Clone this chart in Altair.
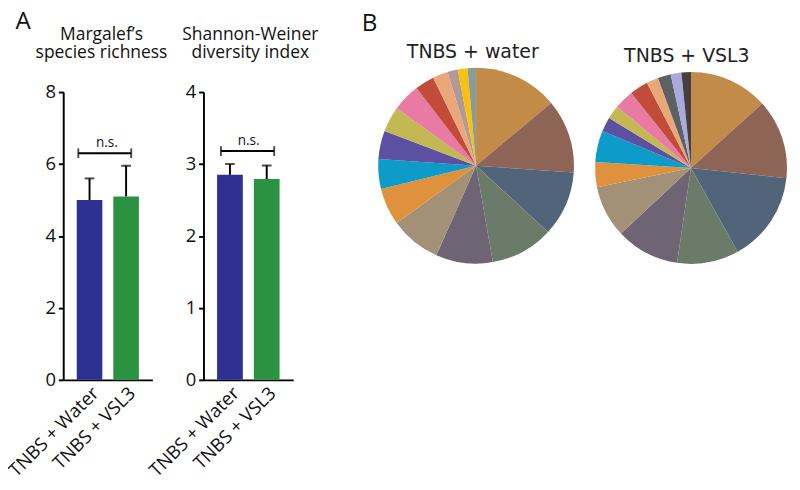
import altair as alt
import pandas as pd

# ---------------- data ----------------
groups = ["TNBS + Water", "TNBS + VSL3"]
bar_colors = ["#2E3192", "#2A9342"]

margalef_mean = [5.0, 5.1]
margalef_upper = [5.6, 5.95]
margalef_ticks = [0, 2, 4, 6, 8]

shannon_mean = [2.85, 2.79]
shannon_upper = [3.0, 2.98]
shannon_ticks = [0, 1, 2, 3, 4]

taxa = [f"Taxon {i}" for i in range(1, 17)]
pie1_values = [13.9, 12.2, 10.7, 10.4, 9.4, 8.4, 6.1, 4.9, 4.7, 4.2, 4.6, 3.2, 2.5, 1.7, 1.6, 1.4]
pie2_values = [13.3, 13.4, 15.2, 10.4, 10.7, 8.75, 4.2, 5.3, 2.4, 2.3, 3.3, 3.1, 2.0, 2.2, 1.8, 1.6]
common_colors = ["#C28B48", "#8E6457", "#526479", "#6A7B69", "#6F6474", "#A29176",
                 "#E0913B", "#0D9BC9", "#5B50A1", "#C3B852", "#E97AA4", "#C24B39", "#EAA87A"]
pie1_colors = common_colors + ["#B29A94", "#FAC10B", "#8C9C9A"]
pie2_colors = common_colors + ["#5C6264", "#A9A9DE", "#45403E"]

FONT = "Open Sans"


def bar_panel(title_lines, mean, upper, ymax, ticks, bracket_y, b1, b2, tdx, width, title_dx):
    df = pd.DataFrame({"group": groups, "mean": mean, "upper": upper, "color": bar_colors})
    br = pd.DataFrame({"g1": [groups[0]], "g2": [groups[1]], "y": [bracket_y]})
    xs = alt.X("group:N",
               scale=alt.Scale(domain=groups, paddingInner=0.3, paddingOuter=0.37),
               axis=alt.Axis(title=None, labelAngle=-45, ticks=False, labelFontSize=19,
                             labelFont=FONT, labelColor="#111", domainColor="black",
                             domainWidth=2, labelPadding=4))
    ys = alt.Y("mean:Q", scale=alt.Scale(domain=[0, ymax], nice=False),
               axis=alt.Axis(title=None, values=ticks, format="d", grid=False,
                             labelFontSize=19, labelFont=FONT, labelColor="#111",
                             domainColor="black", domainWidth=2, tickColor="black",
                             tickWidth=2, tickSize=5, labelPadding=3))
    base = alt.Chart(df)
    bars = base.mark_bar().encode(x=xs, y=ys, color=alt.Color("color:N", scale=None))
    err = base.mark_rule(color="black", strokeWidth=2).encode(
        x="group:N", y="mean:Q", y2="upper:Q")
    cap = base.mark_tick(color="black", thickness=2, size=10).encode(
        x="group:N", y="upper:Q")
    bb = alt.Chart(br)
    line = bb.mark_rule(color="black", strokeWidth=2).encode(
        x=alt.X("g1:N", bandPosition=b1), x2=alt.X2("g2", bandPosition=b2), y="y:Q")
    end1 = bb.mark_tick(color="black", thickness=2, size=10, orient="vertical").encode(
        x=alt.X("g1:N", bandPosition=b1), y="y:Q")
    end2 = bb.mark_tick(color="black", thickness=2, size=10, orient="vertical").encode(
        x=alt.X("g2:N", bandPosition=b2), y="y:Q")
    txt = bb.mark_text(text="n.s.", fontSize=14, font=FONT, baseline="bottom", dy=-3,
                       dx=tdx, color="#111").encode(x=alt.X("g1:N", bandPosition=1), y="y:Q")
    return alt.layer(bars, err, cap, line, end1, end2, txt).properties(
        width=width, height=297,
        title=alt.Title(title_lines, fontSize=18, font=FONT, fontWeight="normal",
                        color="#111", anchor="middle", frame="group", dx=title_dx,
                        lineHeight=19, offset=22))


def pie_panel(title, values, colors, radius, width, height, offset, dx):
    df = pd.DataFrame({"taxon": taxa, "value": values, "color": colors,
                       "i": list(range(len(values)))})
    return alt.Chart(df).mark_arc(radius=radius).encode(
        theta=alt.Theta("value:Q", stack=True),
        color=alt.Color("color:N", scale=None),
        order=alt.Order("i:Q"),
    ).properties(width=width, height=height,
                 title=alt.Title(title, fontSize=19.5, font="DejaVu Sans", fontWeight="normal",
                                 color="#222", anchor="middle", frame="group", dx=dx,
                                 offset=offset))


bar1 = bar_panel(["Margalef’s", "species richness"], margalef_mean, margalef_upper, 8,
                 margalef_ticks, 6.3, 0.06, 0.7, 4.7, 92, -6.5)
bar2 = bar_panel(["Shannon-Weiner", "diversity index"], shannon_mean, shannon_upper, 4,
                 shannon_ticks, 3.18, 0.15, 0.79, 6, 92.6, 2)

pie1 = pie_panel("TNBS + water", pie1_values, pie1_colors, 101, 202, 152, 6, -3.4)
pie2 = pie_panel("TNBS + VSL3", pie2_values, pie2_colors, 99, 198, 156.6, 6, -4.3)

groupA = alt.hconcat(bar1, bar2, spacing=52.7, bounds="flush").properties(
    title=alt.Title("A", fontSize=25, font=FONT, fontWeight="normal", color="#111",
                    anchor="start", offset=-8, dx=10))
groupB = alt.hconcat(pie1, pie2, spacing=21.8, bounds="flush").properties(
    title=alt.Title("B", fontSize=25, font=FONT, fontWeight="normal", color="#111",
                    anchor="start", offset=7, dx=-17))

chart = alt.hconcat(groupA, groupB, spacing=44).configure_view(stroke=None).properties(
    padding={"left": -3, "top": -6, "right": 5, "bottom": 5})

chart.save("out.html", embed_options={"renderer": "svg", "actions": False})
